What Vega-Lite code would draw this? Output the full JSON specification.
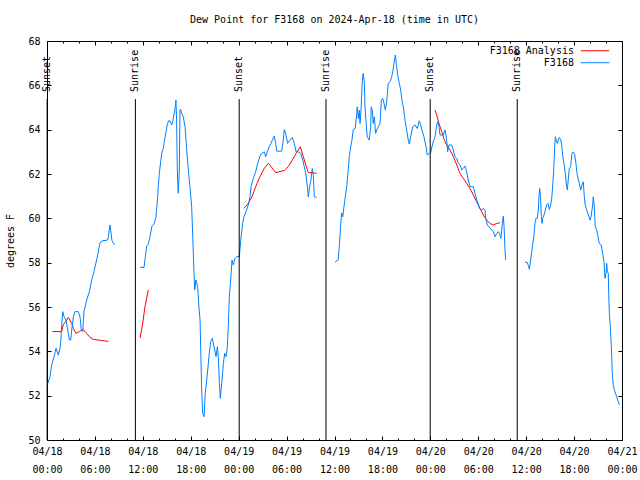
{
"$schema": "https://vega.github.io/schema/vega-lite/v6.json",
"width": 575, "height": 399,
"autosize": {"type": "none"},
"padding": {"left": 47, "top": 41, "right": 18, "bottom": 40},
"background": "white",
"title": {"text": "Dew Point for F3168 on 2024-Apr-18 (time in UTC)", "font": "DejaVu Sans Mono", "fontSize": 10, "fontWeight": "normal", "color": "black", "anchor": "middle", "frame": "group", "baseline": "bottom", "offset": 1},
"config": {
  "view": {"stroke": "black", "strokeWidth": 1},
  "font": "DejaVu Sans Mono",
  "axis": {"labelFont": "DejaVu Sans Mono", "labelFontSize": 10, "labelColor": "black", "tickColor": "black", "domainColor": "black", "grid": false, "titleFont": "DejaVu Sans Mono", "titleFontSize": 10, "titleFontWeight": "normal", "titleColor": "black"}
},
"datasets": {
"f3168": [
{"seg":1,"time":"2024-04-18T00:02Z","dewpt":52.48},
{"seg":1,"time":"2024-04-18T00:23Z","dewpt":52.86},
{"seg":1,"time":"2024-04-18T00:35Z","dewpt":53.38},
{"seg":1,"time":"2024-04-18T00:53Z","dewpt":53.76},
{"seg":1,"time":"2024-04-18T01:08Z","dewpt":54.14},
{"seg":1,"time":"2024-04-18T01:25Z","dewpt":53.83},
{"seg":1,"time":"2024-04-18T01:38Z","dewpt":54.14},
{"seg":1,"time":"2024-04-18T01:45Z","dewpt":54.59},
{"seg":1,"time":"2024-04-18T01:53Z","dewpt":55.41},
{"seg":1,"time":"2024-04-18T01:58Z","dewpt":55.79},
{"seg":1,"time":"2024-04-18T02:08Z","dewpt":55.56},
{"seg":1,"time":"2024-04-18T02:23Z","dewpt":55.41},
{"seg":1,"time":"2024-04-18T02:40Z","dewpt":54.81},
{"seg":1,"time":"2024-04-18T02:48Z","dewpt":54.51},
{"seg":1,"time":"2024-04-18T02:58Z","dewpt":54.51},
{"seg":1,"time":"2024-04-18T03:06Z","dewpt":54.96},
{"seg":1,"time":"2024-04-18T03:18Z","dewpt":55.56},
{"seg":1,"time":"2024-04-18T03:30Z","dewpt":55.79},
{"seg":1,"time":"2024-04-18T03:55Z","dewpt":55.79},
{"seg":1,"time":"2024-04-18T04:08Z","dewpt":55.56},
{"seg":1,"time":"2024-04-18T04:18Z","dewpt":54.96},
{"seg":1,"time":"2024-04-18T04:28Z","dewpt":54.89},
{"seg":1,"time":"2024-04-18T04:38Z","dewpt":55.79},
{"seg":1,"time":"2024-04-18T04:58Z","dewpt":56.31},
{"seg":1,"time":"2024-04-18T05:18Z","dewpt":56.69},
{"seg":1,"time":"2024-04-18T05:36Z","dewpt":57.22},
{"seg":1,"time":"2024-04-18T05:53Z","dewpt":57.6},
{"seg":1,"time":"2024-04-18T06:16Z","dewpt":58.2},
{"seg":1,"time":"2024-04-18T06:38Z","dewpt":58.9},
{"seg":1,"time":"2024-04-18T07:01Z","dewpt":59.0},
{"seg":1,"time":"2024-04-18T07:23Z","dewpt":59.0},
{"seg":1,"time":"2024-04-18T07:38Z","dewpt":59.05},
{"seg":1,"time":"2024-04-18T07:53Z","dewpt":59.7},
{"seg":1,"time":"2024-04-18T08:08Z","dewpt":59.0},
{"seg":1,"time":"2024-04-18T08:27Z","dewpt":58.8},
{"seg":2,"time":"2024-04-18T11:39Z","dewpt":57.79},
{"seg":2,"time":"2024-04-18T12:09Z","dewpt":57.79},
{"seg":2,"time":"2024-04-18T12:22Z","dewpt":58.42},
{"seg":2,"time":"2024-04-18T12:29Z","dewpt":58.75},
{"seg":2,"time":"2024-04-18T12:41Z","dewpt":58.84},
{"seg":2,"time":"2024-04-18T12:54Z","dewpt":59.17},
{"seg":2,"time":"2024-04-18T13:07Z","dewpt":59.62},
{"seg":2,"time":"2024-04-18T13:24Z","dewpt":59.74},
{"seg":2,"time":"2024-04-18T13:39Z","dewpt":60.07},
{"seg":2,"time":"2024-04-18T13:44Z","dewpt":60.45},
{"seg":2,"time":"2024-04-18T13:52Z","dewpt":60.97},
{"seg":2,"time":"2024-04-18T13:56Z","dewpt":61.43},
{"seg":2,"time":"2024-04-18T14:04Z","dewpt":62.03},
{"seg":2,"time":"2024-04-18T14:14Z","dewpt":62.55},
{"seg":2,"time":"2024-04-18T14:24Z","dewpt":63.0},
{"seg":2,"time":"2024-04-18T14:34Z","dewpt":63.16},
{"seg":2,"time":"2024-04-18T14:41Z","dewpt":63.46},
{"seg":2,"time":"2024-04-18T14:54Z","dewpt":63.9},
{"seg":2,"time":"2024-04-18T15:04Z","dewpt":64.23},
{"seg":2,"time":"2024-04-18T15:14Z","dewpt":64.4},
{"seg":2,"time":"2024-04-18T15:24Z","dewpt":64.4},
{"seg":2,"time":"2024-04-18T15:37Z","dewpt":64.21},
{"seg":2,"time":"2024-04-18T15:44Z","dewpt":64.36},
{"seg":2,"time":"2024-04-18T15:54Z","dewpt":64.66},
{"seg":2,"time":"2024-04-18T16:02Z","dewpt":64.96},
{"seg":2,"time":"2024-04-18T16:09Z","dewpt":65.34},
{"seg":2,"time":"2024-04-18T16:14Z","dewpt":64.29},
{"seg":2,"time":"2024-04-18T16:19Z","dewpt":62.18},
{"seg":2,"time":"2024-04-18T16:26Z","dewpt":61.13},
{"seg":2,"time":"2024-04-18T16:34Z","dewpt":62.18},
{"seg":2,"time":"2024-04-18T16:39Z","dewpt":64.89},
{"seg":2,"time":"2024-04-18T16:44Z","dewpt":64.92},
{"seg":2,"time":"2024-04-18T16:52Z","dewpt":64.73},
{"seg":2,"time":"2024-04-18T17:04Z","dewpt":64.58},
{"seg":2,"time":"2024-04-18T17:17Z","dewpt":64.13},
{"seg":2,"time":"2024-04-18T17:30Z","dewpt":63.08},
{"seg":2,"time":"2024-04-18T17:42Z","dewpt":62.18},
{"seg":2,"time":"2024-04-18T17:54Z","dewpt":61.43},
{"seg":2,"time":"2024-04-18T18:07Z","dewpt":60.52},
{"seg":2,"time":"2024-04-18T18:15Z","dewpt":59.17},
{"seg":2,"time":"2024-04-18T18:24Z","dewpt":57.59},
{"seg":2,"time":"2024-04-18T18:30Z","dewpt":56.77},
{"seg":2,"time":"2024-04-18T18:39Z","dewpt":57.22},
{"seg":2,"time":"2024-04-18T18:52Z","dewpt":56.92},
{"seg":2,"time":"2024-04-18T19:02Z","dewpt":55.94},
{"seg":2,"time":"2024-04-18T19:10Z","dewpt":55.41},
{"seg":2,"time":"2024-04-18T19:15Z","dewpt":54.06},
{"seg":2,"time":"2024-04-18T19:22Z","dewpt":52.26},
{"seg":2,"time":"2024-04-18T19:30Z","dewpt":51.2},
{"seg":2,"time":"2024-04-18T19:40Z","dewpt":51.05},
{"seg":2,"time":"2024-04-18T19:49Z","dewpt":52.11},
{"seg":2,"time":"2024-04-18T20:00Z","dewpt":52.71},
{"seg":2,"time":"2024-04-18T20:10Z","dewpt":53.31},
{"seg":2,"time":"2024-04-18T20:19Z","dewpt":53.91},
{"seg":2,"time":"2024-04-18T20:30Z","dewpt":54.43},
{"seg":2,"time":"2024-04-18T20:42Z","dewpt":54.59},
{"seg":2,"time":"2024-04-18T20:55Z","dewpt":54.21},
{"seg":2,"time":"2024-04-18T21:10Z","dewpt":53.76},
{"seg":2,"time":"2024-04-18T21:20Z","dewpt":54.21},
{"seg":2,"time":"2024-04-18T21:27Z","dewpt":53.76},
{"seg":2,"time":"2024-04-18T21:35Z","dewpt":52.56},
{"seg":2,"time":"2024-04-18T21:42Z","dewpt":51.88},
{"seg":2,"time":"2024-04-18T21:53Z","dewpt":52.56},
{"seg":2,"time":"2024-04-18T22:05Z","dewpt":53.46},
{"seg":2,"time":"2024-04-18T22:15Z","dewpt":53.91},
{"seg":2,"time":"2024-04-18T22:25Z","dewpt":53.76},
{"seg":2,"time":"2024-04-18T22:35Z","dewpt":54.21},
{"seg":2,"time":"2024-04-18T22:42Z","dewpt":55.11},
{"seg":2,"time":"2024-04-18T22:50Z","dewpt":56.46},
{"seg":2,"time":"2024-04-18T23:00Z","dewpt":57.22},
{"seg":2,"time":"2024-04-18T23:10Z","dewpt":58.12},
{"seg":2,"time":"2024-04-18T23:20Z","dewpt":57.89},
{"seg":2,"time":"2024-04-18T23:32Z","dewpt":58.19},
{"seg":2,"time":"2024-04-18T23:45Z","dewpt":58.27},
{"seg":2,"time":"2024-04-19T00:05Z","dewpt":58.27},
{"seg":2,"time":"2024-04-19T00:18Z","dewpt":59.17},
{"seg":2,"time":"2024-04-19T00:30Z","dewpt":59.77},
{"seg":2,"time":"2024-04-19T00:40Z","dewpt":60.07},
{"seg":2,"time":"2024-04-19T00:55Z","dewpt":60.3},
{"seg":2,"time":"2024-04-19T01:12Z","dewpt":60.6},
{"seg":2,"time":"2024-04-19T01:25Z","dewpt":60.97},
{"seg":2,"time":"2024-04-19T01:33Z","dewpt":61.43},
{"seg":2,"time":"2024-04-19T01:50Z","dewpt":61.8},
{"seg":2,"time":"2024-04-19T02:08Z","dewpt":62.1},
{"seg":2,"time":"2024-04-19T02:23Z","dewpt":62.48},
{"seg":2,"time":"2024-04-19T02:40Z","dewpt":62.81},
{"seg":2,"time":"2024-04-19T02:53Z","dewpt":62.93},
{"seg":2,"time":"2024-04-19T03:13Z","dewpt":63.0},
{"seg":2,"time":"2024-04-19T03:23Z","dewpt":62.78},
{"seg":2,"time":"2024-04-19T03:35Z","dewpt":63.0},
{"seg":2,"time":"2024-04-19T03:50Z","dewpt":63.23},
{"seg":2,"time":"2024-04-19T04:03Z","dewpt":63.38},
{"seg":2,"time":"2024-04-19T04:13Z","dewpt":63.53},
{"seg":2,"time":"2024-04-19T04:28Z","dewpt":63.71},
{"seg":2,"time":"2024-04-19T04:38Z","dewpt":63.38},
{"seg":2,"time":"2024-04-19T04:46Z","dewpt":63.03},
{"seg":2,"time":"2024-04-19T05:23Z","dewpt":63.03},
{"seg":2,"time":"2024-04-19T05:35Z","dewpt":63.53},
{"seg":2,"time":"2024-04-19T05:43Z","dewpt":64.01},
{"seg":2,"time":"2024-04-19T05:53Z","dewpt":63.83},
{"seg":2,"time":"2024-04-19T06:08Z","dewpt":63.38},
{"seg":2,"time":"2024-04-19T06:26Z","dewpt":63.53},
{"seg":2,"time":"2024-04-19T06:43Z","dewpt":63.65},
{"seg":2,"time":"2024-04-19T06:58Z","dewpt":63.38},
{"seg":2,"time":"2024-04-19T07:11Z","dewpt":63.0},
{"seg":2,"time":"2024-04-19T07:28Z","dewpt":63.0},
{"seg":2,"time":"2024-04-19T07:46Z","dewpt":62.93},
{"seg":2,"time":"2024-04-19T08:01Z","dewpt":62.63},
{"seg":2,"time":"2024-04-19T08:13Z","dewpt":62.33},
{"seg":2,"time":"2024-04-19T08:26Z","dewpt":61.95},
{"seg":2,"time":"2024-04-19T08:39Z","dewpt":61.28},
{"seg":2,"time":"2024-04-19T08:43Z","dewpt":60.97},
{"seg":2,"time":"2024-04-19T08:51Z","dewpt":61.35},
{"seg":2,"time":"2024-04-19T09:03Z","dewpt":61.73},
{"seg":2,"time":"2024-04-19T09:13Z","dewpt":62.25},
{"seg":2,"time":"2024-04-19T09:21Z","dewpt":61.95},
{"seg":2,"time":"2024-04-19T09:28Z","dewpt":60.97},
{"seg":2,"time":"2024-04-19T09:46Z","dewpt":60.95},
{"seg":3,"time":"2024-04-19T12:04Z","dewpt":58.02},
{"seg":3,"time":"2024-04-19T12:28Z","dewpt":58.12},
{"seg":3,"time":"2024-04-19T12:36Z","dewpt":58.72},
{"seg":3,"time":"2024-04-19T12:47Z","dewpt":59.77},
{"seg":3,"time":"2024-04-19T12:54Z","dewpt":60.25},
{"seg":3,"time":"2024-04-19T13:02Z","dewpt":60.07},
{"seg":3,"time":"2024-04-19T13:11Z","dewpt":60.52},
{"seg":3,"time":"2024-04-19T13:21Z","dewpt":60.97},
{"seg":3,"time":"2024-04-19T13:32Z","dewpt":61.43},
{"seg":3,"time":"2024-04-19T13:41Z","dewpt":62.03},
{"seg":3,"time":"2024-04-19T13:51Z","dewpt":62.78},
{"seg":3,"time":"2024-04-19T14:02Z","dewpt":63.23},
{"seg":3,"time":"2024-04-19T14:11Z","dewpt":63.53},
{"seg":3,"time":"2024-04-19T14:21Z","dewpt":64.01},
{"seg":3,"time":"2024-04-19T14:36Z","dewpt":64.05},
{"seg":3,"time":"2024-04-19T14:47Z","dewpt":64.73},
{"seg":3,"time":"2024-04-19T14:51Z","dewpt":65.03},
{"seg":3,"time":"2024-04-19T14:59Z","dewpt":64.5},
{"seg":3,"time":"2024-04-19T15:06Z","dewpt":64.88},
{"seg":3,"time":"2024-04-19T15:12Z","dewpt":64.28},
{"seg":3,"time":"2024-04-19T15:19Z","dewpt":64.88},
{"seg":3,"time":"2024-04-19T15:29Z","dewpt":66.24},
{"seg":3,"time":"2024-04-19T15:36Z","dewpt":66.54},
{"seg":3,"time":"2024-04-19T15:44Z","dewpt":66.09},
{"seg":3,"time":"2024-04-19T15:49Z","dewpt":65.03},
{"seg":3,"time":"2024-04-19T15:57Z","dewpt":64.35},
{"seg":3,"time":"2024-04-19T16:06Z","dewpt":63.68},
{"seg":3,"time":"2024-04-19T16:21Z","dewpt":63.53},
{"seg":3,"time":"2024-04-19T16:32Z","dewpt":64.13},
{"seg":3,"time":"2024-04-19T16:36Z","dewpt":65.03},
{"seg":3,"time":"2024-04-19T16:44Z","dewpt":64.88},
{"seg":3,"time":"2024-04-19T16:51Z","dewpt":64.28},
{"seg":3,"time":"2024-04-19T16:59Z","dewpt":64.58},
{"seg":3,"time":"2024-04-19T17:09Z","dewpt":63.83},
{"seg":3,"time":"2024-04-19T17:17Z","dewpt":63.98},
{"seg":3,"time":"2024-04-19T17:29Z","dewpt":64.13},
{"seg":3,"time":"2024-04-19T17:42Z","dewpt":64.28},
{"seg":3,"time":"2024-04-19T17:52Z","dewpt":65.34},
{"seg":3,"time":"2024-04-19T18:02Z","dewpt":65.41},
{"seg":3,"time":"2024-04-19T18:12Z","dewpt":65.18},
{"seg":3,"time":"2024-04-19T18:22Z","dewpt":64.88},
{"seg":3,"time":"2024-04-19T18:32Z","dewpt":65.26},
{"seg":3,"time":"2024-04-19T18:44Z","dewpt":66.09},
{"seg":3,"time":"2024-04-19T18:57Z","dewpt":66.16},
{"seg":3,"time":"2024-04-19T19:10Z","dewpt":66.39},
{"seg":3,"time":"2024-04-19T19:17Z","dewpt":66.61},
{"seg":3,"time":"2024-04-19T19:27Z","dewpt":66.99},
{"seg":3,"time":"2024-04-19T19:37Z","dewpt":67.37},
{"seg":3,"time":"2024-04-19T19:47Z","dewpt":66.84},
{"seg":3,"time":"2024-04-19T19:57Z","dewpt":66.39},
{"seg":3,"time":"2024-04-19T20:07Z","dewpt":66.09},
{"seg":3,"time":"2024-04-19T20:17Z","dewpt":65.79},
{"seg":3,"time":"2024-04-19T20:27Z","dewpt":65.34},
{"seg":3,"time":"2024-04-19T20:37Z","dewpt":65.03},
{"seg":3,"time":"2024-04-19T20:50Z","dewpt":64.43},
{"seg":3,"time":"2024-04-19T21:02Z","dewpt":63.98},
{"seg":3,"time":"2024-04-19T21:14Z","dewpt":63.53},
{"seg":3,"time":"2024-04-19T21:22Z","dewpt":63.35},
{"seg":3,"time":"2024-04-19T21:32Z","dewpt":63.68},
{"seg":3,"time":"2024-04-19T21:47Z","dewpt":64.13},
{"seg":3,"time":"2024-04-19T22:05Z","dewpt":64.21},
{"seg":3,"time":"2024-04-19T22:22Z","dewpt":64.05},
{"seg":3,"time":"2024-04-19T22:37Z","dewpt":64.4},
{"seg":3,"time":"2024-04-19T22:48Z","dewpt":64.21},
{"seg":3,"time":"2024-04-19T22:57Z","dewpt":63.98},
{"seg":3,"time":"2024-04-19T23:12Z","dewpt":63.68},
{"seg":3,"time":"2024-04-19T23:27Z","dewpt":63.26},
{"seg":3,"time":"2024-04-19T23:37Z","dewpt":62.86},
{"seg":3,"time":"2024-04-19T23:52Z","dewpt":62.93},
{"seg":3,"time":"2024-04-20T00:03Z","dewpt":62.96},
{"seg":3,"time":"2024-04-20T00:12Z","dewpt":63.23},
{"seg":3,"time":"2024-04-20T00:22Z","dewpt":63.46},
{"seg":3,"time":"2024-04-20T00:35Z","dewpt":63.68},
{"seg":3,"time":"2024-04-20T00:48Z","dewpt":64.21},
{"seg":3,"time":"2024-04-20T00:55Z","dewpt":64.36},
{"seg":3,"time":"2024-04-20T01:05Z","dewpt":64.13},
{"seg":3,"time":"2024-04-20T01:13Z","dewpt":63.76},
{"seg":3,"time":"2024-04-20T01:37Z","dewpt":63.76},
{"seg":3,"time":"2024-04-20T01:50Z","dewpt":63.98},
{"seg":3,"time":"2024-04-20T01:58Z","dewpt":63.76},
{"seg":3,"time":"2024-04-20T02:05Z","dewpt":63.38},
{"seg":3,"time":"2024-04-20T02:10Z","dewpt":63.0},
{"seg":3,"time":"2024-04-20T02:20Z","dewpt":63.31},
{"seg":3,"time":"2024-04-20T02:40Z","dewpt":63.31},
{"seg":3,"time":"2024-04-20T02:53Z","dewpt":63.08},
{"seg":3,"time":"2024-04-20T03:05Z","dewpt":62.78},
{"seg":3,"time":"2024-04-20T03:18Z","dewpt":62.71},
{"seg":3,"time":"2024-04-20T03:30Z","dewpt":62.48},
{"seg":3,"time":"2024-04-20T03:43Z","dewpt":62.41},
{"seg":3,"time":"2024-04-20T03:56Z","dewpt":62.18},
{"seg":3,"time":"2024-04-20T04:08Z","dewpt":62.25},
{"seg":3,"time":"2024-04-20T04:20Z","dewpt":62.36},
{"seg":3,"time":"2024-04-20T04:33Z","dewpt":62.1},
{"seg":3,"time":"2024-04-20T04:45Z","dewpt":61.73},
{"seg":3,"time":"2024-04-20T04:58Z","dewpt":61.43},
{"seg":3,"time":"2024-04-20T05:23Z","dewpt":61.43},
{"seg":3,"time":"2024-04-20T05:36Z","dewpt":61.13},
{"seg":3,"time":"2024-04-20T05:48Z","dewpt":60.83},
{"seg":3,"time":"2024-04-20T06:00Z","dewpt":60.67},
{"seg":3,"time":"2024-04-20T06:08Z","dewpt":60.45},
{"seg":3,"time":"2024-04-20T06:26Z","dewpt":60.37},
{"seg":3,"time":"2024-04-20T06:38Z","dewpt":60.45},
{"seg":3,"time":"2024-04-20T06:51Z","dewpt":60.37},
{"seg":3,"time":"2024-04-20T06:56Z","dewpt":60.0},
{"seg":3,"time":"2024-04-20T07:08Z","dewpt":59.7},
{"seg":3,"time":"2024-04-20T07:53Z","dewpt":59.4},
{"seg":3,"time":"2024-04-20T08:06Z","dewpt":59.17},
{"seg":3,"time":"2024-04-20T08:19Z","dewpt":59.32},
{"seg":3,"time":"2024-04-20T08:31Z","dewpt":59.4},
{"seg":3,"time":"2024-04-20T08:43Z","dewpt":59.25},
{"seg":3,"time":"2024-04-20T08:51Z","dewpt":59.1},
{"seg":3,"time":"2024-04-20T09:01Z","dewpt":59.77},
{"seg":3,"time":"2024-04-20T09:08Z","dewpt":60.1},
{"seg":3,"time":"2024-04-20T09:14Z","dewpt":59.62},
{"seg":3,"time":"2024-04-20T09:21Z","dewpt":58.57},
{"seg":3,"time":"2024-04-20T09:26Z","dewpt":58.12},
{"seg":4,"time":"2024-04-20T11:51Z","dewpt":58.02},
{"seg":4,"time":"2024-04-20T12:08Z","dewpt":58.02},
{"seg":4,"time":"2024-04-20T12:19Z","dewpt":57.82},
{"seg":4,"time":"2024-04-20T12:24Z","dewpt":57.7},
{"seg":4,"time":"2024-04-20T12:34Z","dewpt":58.12},
{"seg":4,"time":"2024-04-20T12:42Z","dewpt":58.5},
{"seg":4,"time":"2024-04-20T12:49Z","dewpt":58.84},
{"seg":4,"time":"2024-04-20T12:59Z","dewpt":59.25},
{"seg":4,"time":"2024-04-20T13:06Z","dewpt":59.77},
{"seg":4,"time":"2024-04-20T13:14Z","dewpt":60.0},
{"seg":4,"time":"2024-04-20T13:24Z","dewpt":60.0},
{"seg":4,"time":"2024-04-20T13:31Z","dewpt":60.37},
{"seg":4,"time":"2024-04-20T13:36Z","dewpt":60.97},
{"seg":4,"time":"2024-04-20T13:42Z","dewpt":61.35},
{"seg":4,"time":"2024-04-20T13:49Z","dewpt":60.83},
{"seg":4,"time":"2024-04-20T13:54Z","dewpt":60.07},
{"seg":4,"time":"2024-04-20T13:59Z","dewpt":59.77},
{"seg":4,"time":"2024-04-20T14:04Z","dewpt":60.0},
{"seg":4,"time":"2024-04-20T14:14Z","dewpt":60.15},
{"seg":4,"time":"2024-04-20T14:24Z","dewpt":60.37},
{"seg":4,"time":"2024-04-20T14:34Z","dewpt":60.6},
{"seg":4,"time":"2024-04-20T14:44Z","dewpt":60.67},
{"seg":4,"time":"2024-04-20T14:54Z","dewpt":60.4},
{"seg":4,"time":"2024-04-20T15:04Z","dewpt":60.6},
{"seg":4,"time":"2024-04-20T15:12Z","dewpt":60.9},
{"seg":4,"time":"2024-04-20T15:19Z","dewpt":61.43},
{"seg":4,"time":"2024-04-20T15:27Z","dewpt":62.18},
{"seg":4,"time":"2024-04-20T15:34Z","dewpt":63.23},
{"seg":4,"time":"2024-04-20T15:39Z","dewpt":63.68},
{"seg":4,"time":"2024-04-20T15:46Z","dewpt":63.53},
{"seg":4,"time":"2024-04-20T15:54Z","dewpt":63.38},
{"seg":4,"time":"2024-04-20T16:01Z","dewpt":63.53},
{"seg":4,"time":"2024-04-20T16:09Z","dewpt":63.65},
{"seg":4,"time":"2024-04-20T16:19Z","dewpt":63.56},
{"seg":4,"time":"2024-04-20T16:27Z","dewpt":63.31},
{"seg":4,"time":"2024-04-20T16:34Z","dewpt":62.86},
{"seg":4,"time":"2024-04-20T16:44Z","dewpt":62.48},
{"seg":4,"time":"2024-04-20T16:54Z","dewpt":62.03},
{"seg":4,"time":"2024-04-20T17:01Z","dewpt":61.58},
{"seg":4,"time":"2024-04-20T17:09Z","dewpt":61.28},
{"seg":4,"time":"2024-04-20T17:16Z","dewpt":61.73},
{"seg":4,"time":"2024-04-20T17:24Z","dewpt":62.25},
{"seg":4,"time":"2024-04-20T17:34Z","dewpt":62.33},
{"seg":4,"time":"2024-04-20T17:44Z","dewpt":62.93},
{"seg":4,"time":"2024-04-20T17:54Z","dewpt":63.0},
{"seg":4,"time":"2024-04-20T18:05Z","dewpt":62.86},
{"seg":4,"time":"2024-04-20T18:14Z","dewpt":62.48},
{"seg":4,"time":"2024-04-20T18:22Z","dewpt":62.03},
{"seg":4,"time":"2024-04-20T18:32Z","dewpt":61.73},
{"seg":4,"time":"2024-04-20T18:39Z","dewpt":61.58},
{"seg":4,"time":"2024-04-20T18:50Z","dewpt":61.28},
{"seg":4,"time":"2024-04-20T18:59Z","dewpt":61.5},
{"seg":4,"time":"2024-04-20T19:09Z","dewpt":61.65},
{"seg":4,"time":"2024-04-20T19:17Z","dewpt":60.97},
{"seg":4,"time":"2024-04-20T19:24Z","dewpt":60.6},
{"seg":4,"time":"2024-04-20T19:35Z","dewpt":60.37},
{"seg":4,"time":"2024-04-20T19:47Z","dewpt":60.15},
{"seg":4,"time":"2024-04-20T20:00Z","dewpt":59.92},
{"seg":4,"time":"2024-04-20T20:07Z","dewpt":60.07},
{"seg":4,"time":"2024-04-20T20:20Z","dewpt":60.6},
{"seg":4,"time":"2024-04-20T20:24Z","dewpt":60.97},
{"seg":4,"time":"2024-04-20T20:32Z","dewpt":60.52},
{"seg":4,"time":"2024-04-20T20:39Z","dewpt":59.62},
{"seg":4,"time":"2024-04-20T20:50Z","dewpt":59.47},
{"seg":4,"time":"2024-04-20T21:00Z","dewpt":59.17},
{"seg":4,"time":"2024-04-20T21:09Z","dewpt":58.87},
{"seg":4,"time":"2024-04-20T21:24Z","dewpt":58.8},
{"seg":4,"time":"2024-04-20T21:35Z","dewpt":58.42},
{"seg":4,"time":"2024-04-20T21:45Z","dewpt":58.04},
{"seg":4,"time":"2024-04-20T21:52Z","dewpt":57.29},
{"seg":4,"time":"2024-04-20T22:00Z","dewpt":57.52},
{"seg":4,"time":"2024-04-20T22:05Z","dewpt":57.97},
{"seg":4,"time":"2024-04-20T22:10Z","dewpt":57.59},
{"seg":4,"time":"2024-04-20T22:17Z","dewpt":57.52},
{"seg":4,"time":"2024-04-20T22:20Z","dewpt":56.62},
{"seg":4,"time":"2024-04-20T22:25Z","dewpt":55.71},
{"seg":4,"time":"2024-04-20T22:32Z","dewpt":55.11},
{"seg":4,"time":"2024-04-20T22:40Z","dewpt":54.21},
{"seg":4,"time":"2024-04-20T22:47Z","dewpt":53.01},
{"seg":4,"time":"2024-04-20T22:55Z","dewpt":52.41},
{"seg":4,"time":"2024-04-20T23:07Z","dewpt":52.18},
{"seg":4,"time":"2024-04-20T23:20Z","dewpt":51.95},
{"seg":4,"time":"2024-04-20T23:32Z","dewpt":51.73},
{"seg":4,"time":"2024-04-20T23:40Z","dewpt":51.58}
],
"analysis": [
{"seg":1,"time":"2024-04-18T00:40Z","dewpt":54.89},
{"seg":1,"time":"2024-04-18T01:50Z","dewpt":54.89},
{"seg":1,"time":"2024-04-18T02:02Z","dewpt":55.19},
{"seg":1,"time":"2024-04-18T02:28Z","dewpt":55.41},
{"seg":1,"time":"2024-04-18T02:40Z","dewpt":55.53},
{"seg":1,"time":"2024-04-18T03:06Z","dewpt":55.26},
{"seg":1,"time":"2024-04-18T03:18Z","dewpt":55.04},
{"seg":1,"time":"2024-04-18T03:38Z","dewpt":54.81},
{"seg":1,"time":"2024-04-18T04:03Z","dewpt":54.89},
{"seg":1,"time":"2024-04-18T04:33Z","dewpt":54.99},
{"seg":1,"time":"2024-04-18T04:58Z","dewpt":54.81},
{"seg":1,"time":"2024-04-18T05:23Z","dewpt":54.63},
{"seg":1,"time":"2024-04-18T05:48Z","dewpt":54.54},
{"seg":1,"time":"2024-04-18T06:25Z","dewpt":54.51},
{"seg":1,"time":"2024-04-18T07:03Z","dewpt":54.48},
{"seg":1,"time":"2024-04-18T07:41Z","dewpt":54.45},
{"seg":2,"time":"2024-04-18T11:39Z","dewpt":54.59},
{"seg":2,"time":"2024-04-18T11:59Z","dewpt":55.26},
{"seg":2,"time":"2024-04-18T12:16Z","dewpt":56.01},
{"seg":2,"time":"2024-04-18T12:41Z","dewpt":56.77},
{"seg":3,"time":"2024-04-19T00:40Z","dewpt":60.45},
{"seg":3,"time":"2024-04-19T01:12Z","dewpt":60.67},
{"seg":3,"time":"2024-04-19T01:42Z","dewpt":61.0},
{"seg":3,"time":"2024-04-19T02:08Z","dewpt":61.43},
{"seg":3,"time":"2024-04-19T02:40Z","dewpt":61.88},
{"seg":3,"time":"2024-04-19T03:13Z","dewpt":62.26},
{"seg":3,"time":"2024-04-19T03:43Z","dewpt":62.48},
{"seg":3,"time":"2024-04-19T04:08Z","dewpt":62.3},
{"seg":3,"time":"2024-04-19T04:38Z","dewpt":62.06},
{"seg":3,"time":"2024-04-19T05:10Z","dewpt":62.11},
{"seg":3,"time":"2024-04-19T05:43Z","dewpt":62.16},
{"seg":3,"time":"2024-04-19T06:13Z","dewpt":62.33},
{"seg":3,"time":"2024-04-19T06:43Z","dewpt":62.63},
{"seg":3,"time":"2024-04-19T07:11Z","dewpt":62.93},
{"seg":3,"time":"2024-04-19T07:43Z","dewpt":63.23},
{"seg":3,"time":"2024-04-19T08:06Z","dewpt":62.78},
{"seg":3,"time":"2024-04-19T08:24Z","dewpt":62.41},
{"seg":3,"time":"2024-04-19T08:43Z","dewpt":62.06},
{"seg":3,"time":"2024-04-19T09:13Z","dewpt":62.06},
{"seg":3,"time":"2024-04-19T09:46Z","dewpt":62.03},
{"seg":4,"time":"2024-04-20T00:35Z","dewpt":64.88},
{"seg":4,"time":"2024-04-20T00:48Z","dewpt":64.66},
{"seg":4,"time":"2024-04-20T01:05Z","dewpt":64.28},
{"seg":4,"time":"2024-04-20T01:26Z","dewpt":63.91},
{"seg":4,"time":"2024-04-20T01:45Z","dewpt":63.53},
{"seg":4,"time":"2024-04-20T02:03Z","dewpt":63.31},
{"seg":4,"time":"2024-04-20T02:28Z","dewpt":63.08},
{"seg":4,"time":"2024-04-20T02:53Z","dewpt":62.78},
{"seg":4,"time":"2024-04-20T03:18Z","dewpt":62.41},
{"seg":4,"time":"2024-04-20T03:43Z","dewpt":62.03},
{"seg":4,"time":"2024-04-20T04:08Z","dewpt":61.8},
{"seg":4,"time":"2024-04-20T04:33Z","dewpt":61.58},
{"seg":4,"time":"2024-04-20T04:58Z","dewpt":61.35},
{"seg":4,"time":"2024-04-20T05:23Z","dewpt":61.05},
{"seg":4,"time":"2024-04-20T05:48Z","dewpt":60.75},
{"seg":4,"time":"2024-04-20T06:13Z","dewpt":60.45},
{"seg":4,"time":"2024-04-20T06:38Z","dewpt":60.15},
{"seg":4,"time":"2024-04-20T07:04Z","dewpt":59.92},
{"seg":4,"time":"2024-04-20T07:28Z","dewpt":59.77},
{"seg":4,"time":"2024-04-20T07:53Z","dewpt":59.7},
{"seg":4,"time":"2024-04-20T08:19Z","dewpt":59.77},
{"seg":4,"time":"2024-04-20T08:43Z","dewpt":59.8}
],
"sun": [
{"time":"2024-04-18T00:01Z","event":"Sunset"},
{"time":"2024-04-18T11:04Z","event":"Sunrise"},
{"time":"2024-04-19T00:04Z","event":"Sunset"},
{"time":"2024-04-19T10:56Z","event":"Sunrise"},
{"time":"2024-04-19T23:59Z","event":"Sunset"},
{"time":"2024-04-20T10:53Z","event":"Sunrise"}
]
},
"resolve": {"axis": {"x": "independent", "y": "independent"}},
"layer": [
{
  "data": {"name": "analysis"},
  "mark": {"type": "line", "strokeWidth": 1},
  "encoding": {
    "x": {"field": "time", "type": "temporal",
      "scale": {"type": "utc", "nice": false, "domain": [{"year":2024,"month":4,"date":18,"hours":0,"utc":true},{"year":2024,"month":4,"date":21,"hours":0,"utc":true}]},
      "axis": {"orient": "bottom", "title": null, "tickCount": 12, "tickSize": -4, "labelPadding": 10, "labelLineHeight": 18, "labelAngle": 0, "labelAlign": "center", "labelFlush": false, "labelOverlap": false, "domain": false, "labelExpr": "[utcFormat(datum.value, '%m/%d'), utcFormat(datum.value, '%H:%M')]"}},
    "y": {"field": "dewpt", "type": "quantitative",
      "scale": {"domain": [50, 68], "nice": false, "zero": false},
      "axis": {"orient": "left", "title": "degrees F", "values": [50,52,54,56,58,60,62,64,66,68], "tickSize": -4, "labelPadding": 11, "titlePadding": 12, "domain": false, "labelFlush": false, "labelOverlap": false}},
    "detail": {"field": "seg", "type": "nominal"},
    "color": {"datum": "F3168 Analysis", "type": "nominal",
      "scale": {"domain": ["F3168 Analysis", "F3168"], "range": ["#ff0000", "#0080ff"]},
      "legend": null}
  }
},
{
  "data": {"name": "f3168"},
  "mark": {"type": "line", "strokeWidth": 1},
  "encoding": {
    "x": {"field": "time", "type": "temporal",
      "scale": {"type": "utc", "nice": false, "domain": [{"year":2024,"month":4,"date":18,"hours":0,"utc":true},{"year":2024,"month":4,"date":21,"hours":0,"utc":true}]},
      "axis": {"orient": "top", "title": null, "tickCount": 12, "tickSize": -4, "labels": false, "domain": false}},
    "y": {"field": "dewpt", "type": "quantitative",
      "scale": {"domain": [50, 68], "nice": false, "zero": false},
      "axis": {"orient": "right", "title": null, "values": [50,52,54,56,58,60,62,64,66,68], "tickSize": -4, "labels": false, "domain": false}},
    "detail": {"field": "seg", "type": "nominal"},
    "color": {"datum": "F3168", "type": "nominal", "legend": null}
  }
},
{
  "data": {"name": "sun"},
  "mark": {"type": "rule", "color": "black", "strokeWidth": 1},
  "encoding": {
    "x": {"field": "time", "type": "temporal",
      "scale": {"type": "utc", "nice": false, "domain": [{"year":2024,"month":4,"date":18,"hours":0,"utc":true},{"year":2024,"month":4,"date":21,"hours":0,"utc":true}]},
      "axis": {"orient": "bottom", "title": null, "tickSize": -2, "labels": false, "domain": false,
        "values": [
          {"year":2024,"month":4,"date":18,"hours":2,"utc":true},{"year":2024,"month":4,"date":18,"hours":4,"utc":true},
          {"year":2024,"month":4,"date":18,"hours":8,"utc":true},{"year":2024,"month":4,"date":18,"hours":10,"utc":true},
          {"year":2024,"month":4,"date":18,"hours":14,"utc":true},{"year":2024,"month":4,"date":18,"hours":16,"utc":true},
          {"year":2024,"month":4,"date":18,"hours":20,"utc":true},{"year":2024,"month":4,"date":18,"hours":22,"utc":true},
          {"year":2024,"month":4,"date":19,"hours":2,"utc":true},{"year":2024,"month":4,"date":19,"hours":4,"utc":true},
          {"year":2024,"month":4,"date":19,"hours":8,"utc":true},{"year":2024,"month":4,"date":19,"hours":10,"utc":true},
          {"year":2024,"month":4,"date":19,"hours":14,"utc":true},{"year":2024,"month":4,"date":19,"hours":16,"utc":true},
          {"year":2024,"month":4,"date":19,"hours":20,"utc":true},{"year":2024,"month":4,"date":19,"hours":22,"utc":true},
          {"year":2024,"month":4,"date":20,"hours":2,"utc":true},{"year":2024,"month":4,"date":20,"hours":4,"utc":true},
          {"year":2024,"month":4,"date":20,"hours":8,"utc":true},{"year":2024,"month":4,"date":20,"hours":10,"utc":true},
          {"year":2024,"month":4,"date":20,"hours":14,"utc":true},{"year":2024,"month":4,"date":20,"hours":16,"utc":true},
          {"year":2024,"month":4,"date":20,"hours":20,"utc":true},{"year":2024,"month":4,"date":20,"hours":22,"utc":true}
        ]}},
    "y": {"datum": 65.38, "type": "quantitative", "scale": {"domain": [50, 68], "nice": false, "zero": false}, "axis": null},
    "y2": {"datum": 50}
  }
},
{
  "data": {"name": "sun"},
  "mark": {"type": "text", "angle": 270, "align": "left", "baseline": "middle", "font": "DejaVu Sans Mono", "fontSize": 10, "color": "black"},
  "encoding": {
    "x": {"field": "time", "type": "temporal",
      "scale": {"type": "utc", "nice": false, "domain": [{"year":2024,"month":4,"date":18,"hours":0,"utc":true},{"year":2024,"month":4,"date":21,"hours":0,"utc":true}]},
      "axis": {"orient": "top", "title": null, "tickSize": -2, "labels": false, "domain": false,
        "values": [
          {"year":2024,"month":4,"date":18,"hours":2,"utc":true},{"year":2024,"month":4,"date":18,"hours":4,"utc":true},
          {"year":2024,"month":4,"date":18,"hours":8,"utc":true},{"year":2024,"month":4,"date":18,"hours":10,"utc":true},
          {"year":2024,"month":4,"date":18,"hours":14,"utc":true},{"year":2024,"month":4,"date":18,"hours":16,"utc":true},
          {"year":2024,"month":4,"date":18,"hours":20,"utc":true},{"year":2024,"month":4,"date":18,"hours":22,"utc":true},
          {"year":2024,"month":4,"date":19,"hours":2,"utc":true},{"year":2024,"month":4,"date":19,"hours":4,"utc":true},
          {"year":2024,"month":4,"date":19,"hours":8,"utc":true},{"year":2024,"month":4,"date":19,"hours":10,"utc":true},
          {"year":2024,"month":4,"date":19,"hours":14,"utc":true},{"year":2024,"month":4,"date":19,"hours":16,"utc":true},
          {"year":2024,"month":4,"date":19,"hours":20,"utc":true},{"year":2024,"month":4,"date":19,"hours":22,"utc":true},
          {"year":2024,"month":4,"date":20,"hours":2,"utc":true},{"year":2024,"month":4,"date":20,"hours":4,"utc":true},
          {"year":2024,"month":4,"date":20,"hours":8,"utc":true},{"year":2024,"month":4,"date":20,"hours":10,"utc":true},
          {"year":2024,"month":4,"date":20,"hours":14,"utc":true},{"year":2024,"month":4,"date":20,"hours":16,"utc":true},
          {"year":2024,"month":4,"date":20,"hours":20,"utc":true},{"year":2024,"month":4,"date":20,"hours":22,"utc":true}
        ]}},
    "y": {"datum": 65.7, "type": "quantitative", "scale": {"domain": [50, 68], "nice": false, "zero": false}, "axis": null},
    "text": {"field": "event", "type": "nominal"}
  }
},
{
  "data": {"values": [{"series": "F3168 Analysis"}]},
  "mark": {"type": "rule", "color": "#ff0000", "strokeWidth": 1},
  "encoding": {
    "x": {"datum": {"year":2024,"month":4,"date":20,"hours":18,"minutes":50,"utc":true}, "type": "temporal",
      "scale": {"type": "utc", "nice": false, "domain": [{"year":2024,"month":4,"date":18,"hours":0,"utc":true},{"year":2024,"month":4,"date":21,"hours":0,"utc":true}]}, "axis": null},
    "x2": {"datum": {"year":2024,"month":4,"date":20,"hours":22,"minutes":25,"utc":true}},
    "y": {"datum": 67.56, "type": "quantitative", "scale": {"domain": [50, 68], "nice": false, "zero": false}, "axis": null}
  }
},
{
  "data": {"values": [{"series": "F3168"}]},
  "mark": {"type": "rule", "color": "#0080ff", "strokeWidth": 1},
  "encoding": {
    "x": {"datum": {"year":2024,"month":4,"date":20,"hours":18,"minutes":50,"utc":true}, "type": "temporal",
      "scale": {"type": "utc", "nice": false, "domain": [{"year":2024,"month":4,"date":18,"hours":0,"utc":true},{"year":2024,"month":4,"date":21,"hours":0,"utc":true}]}, "axis": null},
    "x2": {"datum": {"year":2024,"month":4,"date":20,"hours":22,"minutes":25,"utc":true}},
    "y": {"datum": 67.02, "type": "quantitative", "scale": {"domain": [50, 68], "nice": false, "zero": false}, "axis": null}
  }
},
{
  "data": {"values": [{"series": "F3168 Analysis"}]},
  "mark": {"type": "text", "align": "right", "baseline": "middle", "font": "DejaVu Sans Mono", "fontSize": 10, "color": "black"},
  "encoding": {
    "x": {"datum": {"year":2024,"month":4,"date":20,"hours":17,"minutes":59,"utc":true}, "type": "temporal",
      "scale": {"type": "utc", "nice": false, "domain": [{"year":2024,"month":4,"date":18,"hours":0,"utc":true},{"year":2024,"month":4,"date":21,"hours":0,"utc":true}]}, "axis": null},
    "y": {"datum": 67.56, "type": "quantitative", "scale": {"domain": [50, 68], "nice": false, "zero": false}, "axis": null},
    "text": {"field": "series", "type": "nominal"}
  }
},
{
  "data": {"values": [{"series": "F3168"}]},
  "mark": {"type": "text", "align": "right", "baseline": "middle", "font": "DejaVu Sans Mono", "fontSize": 10, "color": "black"},
  "encoding": {
    "x": {"datum": {"year":2024,"month":4,"date":20,"hours":17,"minutes":59,"utc":true}, "type": "temporal",
      "scale": {"type": "utc", "nice": false, "domain": [{"year":2024,"month":4,"date":18,"hours":0,"utc":true},{"year":2024,"month":4,"date":21,"hours":0,"utc":true}]}, "axis": null},
    "y": {"datum": 67.02, "type": "quantitative", "scale": {"domain": [50, 68], "nice": false, "zero": false}, "axis": null},
    "text": {"field": "series", "type": "nominal"}
  }
}
]
}
